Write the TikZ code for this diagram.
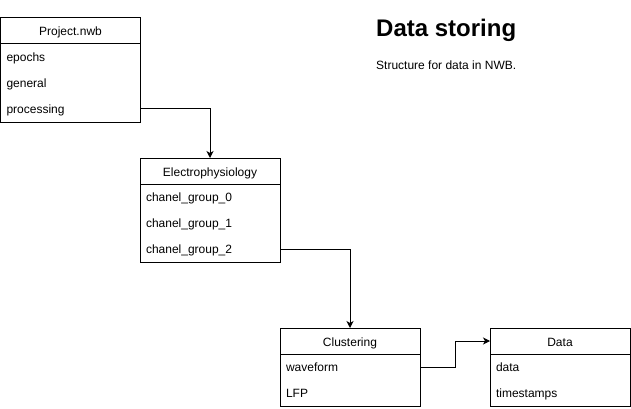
\documentclass[tikz,border=0pt]{standalone}
\usepackage{fontspec}
\setmainfont{Liberation Sans}
\usetikzlibrary{arrows.meta}
\begin{document}
\begin{tikzpicture}[x=1pt,y=-1pt,
  every node/.style={font=\fontsize{12}{14}\selectfont},
  head/.style={draw, line width=1pt, outer sep=0pt, minimum width=140pt, minimum height=26pt, inner sep=0pt, text height=10pt, text depth=0pt, anchor=north west},
  row/.style={minimum height=26pt, text width=128pt, align=left, inner xsep=6pt, inner ysep=0pt, outer sep=0pt, text height=9.5pt, text depth=0pt, anchor=north west},
  frame/.style={draw, line width=1pt},
  conn/.style={draw, line width=1pt, -{Stealth[length=7pt,width=7pt,inset=2pt]}}
]
\useasboundingbox (0,0) rectangle (631,409);
\fill[white] (0,0) rectangle (631,409);

% Project.nwb
\node[head] (projhead) at (0.5,18) {Project.nwb};
\node[row] (epochs) at (0.5,44) {epochs};
\node[row] (general) at (0.5,70) {general};
\node[row] (processing) at (0.5,96) {processing};
\draw[frame] (projhead.north west) rectangle (processing.south east);

% Electrophysiology
\node[head] (ephyshead) at (140,158) {Electrophysiology};
\node[row] (cg0) at (140,184) {chanel\_group\_0};
\node[row] (cg1) at (140,210) {chanel\_group\_1};
\node[row] (cg2) at (140,236) {chanel\_group\_2};
\draw[frame] (ephyshead.north west) rectangle (cg2.south east);

% Clustering
\node[head] (clusthead) at (280,328) {Clustering};
\node[row] (waveform) at (280,354) {waveform};
\node[row] (lfp) at (280,380) {LFP};
\draw[frame] (clusthead.north west) rectangle (lfp.south east);

% Data
\node[head] (datahead) at (490,328) {Data};
\node[row] (data) at (490,354) {data};
\node[row] (timestamps) at (490,380) {timestamps};
\draw[frame] (datahead.north west) rectangle (timestamps.south east);

% Title
\node[anchor=base west, inner sep=0pt, font=\fontsize{24}{28}\selectfont\bfseries] (title) at (376,37) {Data storing};
\node[anchor=base west, inner sep=0pt] (subtitle) at (376,70) {Structure for data in NWB.};

% Connectors
\draw[conn] (processing.east) -| (ephyshead.north);
\draw[conn] (cg2.east) -| (clusthead.north);
\coordinate (mid) at (455,367);
\draw[conn] (waveform.east) -- (mid) |- (datahead.west);
\end{tikzpicture}
\end{document}
